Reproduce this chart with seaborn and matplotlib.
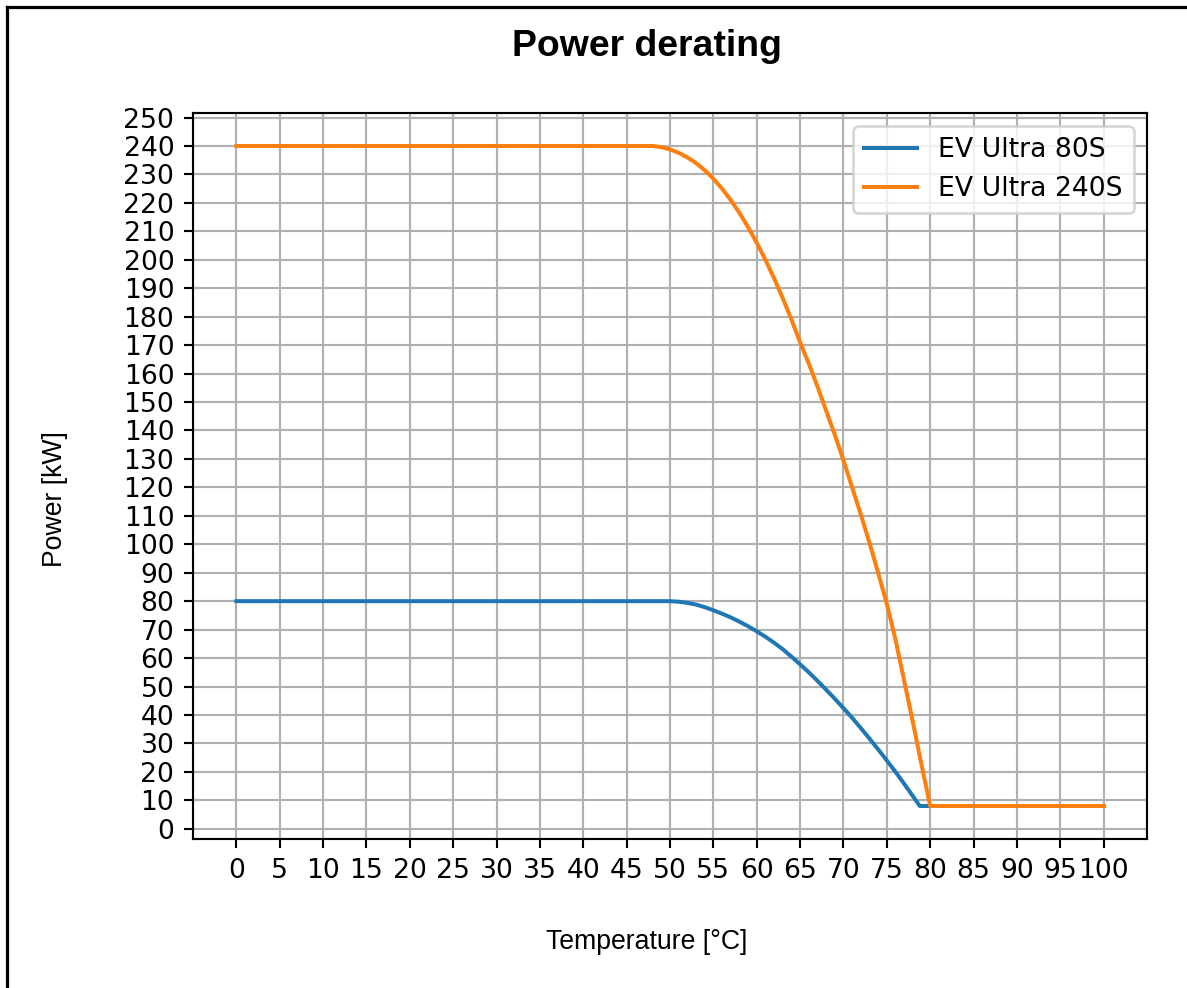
import pandas as pd
import matplotlib.pyplot as plt
import seaborn as sns
from matplotlib.lines import Line2D

plt.rcParams['font.family'] = ['DejaVu Sans']

# values
temp_80s = [0, 50, 51, 52, 53, 54, 55, 56, 57, 58, 59, 60, 61, 62, 63, 64, 65, 66, 67, 68,
            69, 70, 71, 72, 73, 74, 75, 76, 77, 78, 78.8, 80, 100]
power_80s = [80, 80, 79.8, 79.4, 78.8, 77.9, 76.8, 75.6, 74.3, 72.8, 71.2, 69.4, 67.5, 65.4,
             63.1, 60.5, 57.8, 55, 52, 48.9, 45.7, 42.4, 39, 35.4, 31.7, 27.9, 24, 20, 15.8,
             11.5, 8, 8, 8]

temp_240s = [0, 48, 49, 50, 51, 52, 53, 54, 55, 56, 57, 58, 59, 60, 61, 62, 63, 64, 65, 66,
             67, 68, 69, 70, 71, 72, 73, 74, 75, 76, 77, 78, 79, 80, 100]
power_240s = [240, 240, 239.6, 238.8, 237.6, 236, 234, 231.5, 228.5, 225, 221, 216.5, 211.5,
              206, 200, 193.5, 186.5, 179, 171, 163.5, 155.5, 147, 138.5, 129.5, 120, 110.5,
              100.5, 90, 79, 66.5, 52, 37.5, 22.5, 8, 8]

x_ticks = list(range(0, 101, 5))
y_ticks = list(range(0, 251, 10))

df_80 = pd.DataFrame({'Temperature': temp_80s, 'Power': power_80s})
df_240 = pd.DataFrame({'Temperature': temp_240s, 'Power': power_240s})

fig = plt.figure(figsize=(1187 / 192, 988 / 192), dpi=192)
ax = fig.add_axes([193 / 1187, 1 - 839 / 988, (1147 - 193) / 1187, (839 - 113) / 988])

sns.lineplot(data=df_80, x='Temperature', y='Power', ax=ax, color='#1f77b4',
             linewidth=1.5, label='EV Ultra 80S', sort=False)
sns.lineplot(data=df_240, x='Temperature', y='Power', ax=ax, color='#ff7f0e',
             linewidth=1.5, label='EV Ultra 240S', sort=False)

ax.set_xticks(x_ticks)
ax.set_yticks(y_ticks)
ax.tick_params(labelsize=10)
ax.grid(True, color='#b0b0b0', linewidth=0.8)
ax.set_xlabel('')
ax.set_ylabel('')
ax.legend(loc='upper right', fontsize=10)

# labels placed on the figure, like the original
fig.text(647 / 1187, 1 - 47 / 988, 'Power derating', ha='center', va='center',
         fontsize=14, fontweight='bold', family='Liberation Sans')
fig.text(647 / 1187, 1 - 942 / 988, 'Temperature [°C]', ha='center', va='center',
         fontsize=10, family='Liberation Sans')
fig.text(55 / 1187, 1 - 499 / 988, 'Power [kW]', ha='center', va='center',
         rotation=90, fontsize=10, family='Liberation Sans')

# black frame on the left and top edge
lx = 7 / 1187
ty = 1 - 7 / 988
fig.add_artist(Line2D([lx, lx], [0, ty], color='black', linewidth=1.2, transform=fig.transFigure))
fig.add_artist(Line2D([lx, 1], [ty, ty], color='black', linewidth=1.2, transform=fig.transFigure))

fig.savefig('out.png', dpi=192)
